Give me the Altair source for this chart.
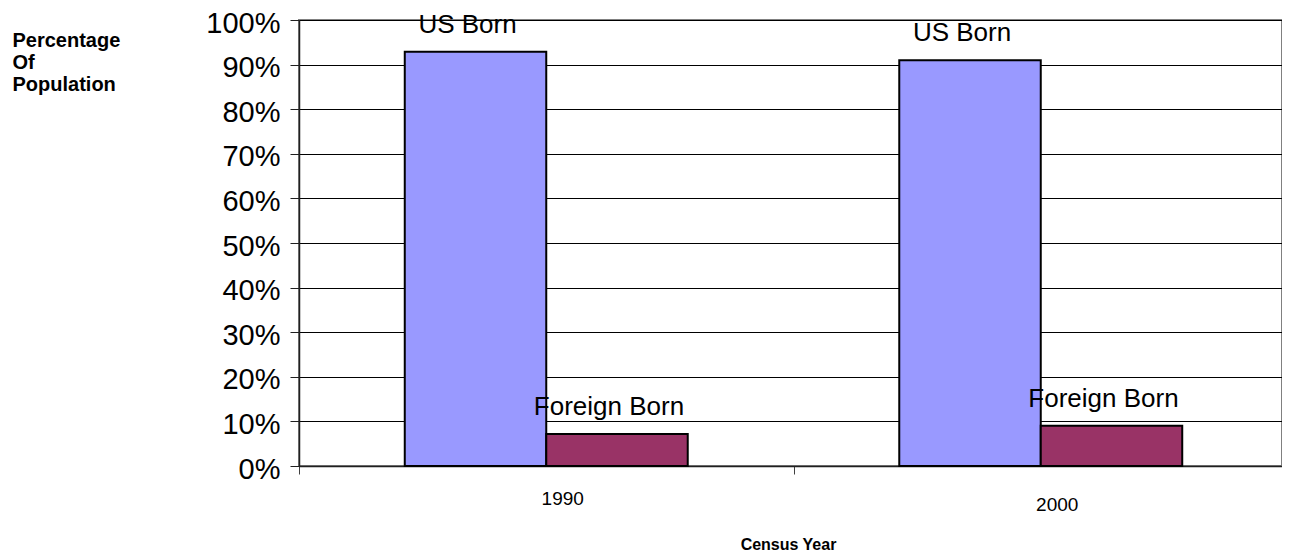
import altair as alt
import pandas as pd

years = ["1990", "2000"]
series = ["US Born", "Foreign Born"]
us_born = [0.929, 0.910]
foreign_born = [0.072, 0.090]
colors = ["#9999FF", "#993366"]

rows = []
for i, yr in enumerate(years):
    rows.append({"year": yr, "series": series[0], "value": us_born[i]})
    rows.append({"year": yr, "series": series[1], "value": foreign_born[i]})
df = pd.DataFrame(rows)

FONT = "Liberation Sans"

x = alt.X(
    "year:N",
    scale=alt.Scale(paddingInner=0, paddingOuter=0, range=[0, 989]),
    axis=alt.Axis(
        title="Census Year",
        titleFont=FONT,
        titleFontSize=16,
        titleFontWeight="bold",
        titleColor="black",
        titleX=489,
        titleY=83,
        titleAlign="center",
        titleBaseline="alphabetic",
        labelFont=FONT,
        labelFontSize=19,
        labelColor="black",
        labelAngle=0,
        labelBaseline="top",
        labelOffset=16,
        labelPadding=alt.condition("datum.value == '2000'", alt.value(21), alt.value(15)),
        tickBand="extent",
        tickSize=8,
        tickColor="#404040",
        domainColor="#202020",
        domainWidth=1.5,
        grid=False,
    ),
)
xo = alt.XOffset("series:N", sort=series, scale=alt.Scale(paddingInner=0, paddingOuter=0.7475))
y = alt.Y(
    "value:Q",
    scale=alt.Scale(domain=[0, 1], nice=False),
    axis=alt.Axis(
        values=[i / 10 for i in range(11)],
        format="%",
        title=["Percentage", "Of", "Population"],
        titleFont=FONT,
        titleFontSize=20,
        titleFontWeight="bold",
        titleColor="black",
        titleAngle=0,
        titleAlign="left",
        titleBaseline="alphabetic",
        titleX=-287,
        titleY=26,
        titleLineHeight=22,
        labelFont=FONT,
        labelFontSize=29,
        labelColor="black",
        labelPadding=10,
        labelOffset=3,
        tickSize=9,
        tickColor="#202020",
        domainColor="#202020",
        domainWidth=1.5,
        grid=True,
        gridColor="#000000",
        gridWidth=1,
    ),
)
color = alt.Color("series:N", scale=alt.Scale(domain=series, range=colors), legend=None)

base = alt.Chart(df)
bars = base.mark_bar(stroke="black", strokeWidth=2).encode(x=x, xOffset=xo, y=y, color=color)
labels = base.mark_text(
    font=FONT, fontSize=26, color="black", baseline="alphabetic", dx=-8, dy=-19
).encode(x=x, xOffset=xo, y=y, text="series:N")

chart = (
    alt.layer(bars, labels)
    .properties(
        width=983,
        height=446,
        autosize=alt.AutoSizeParams(type="none"),
        padding={"left": 291, "top": 12, "right": 0, "bottom": 86},
        background="white",
    )
    .configure_view(stroke="#808080", strokeWidth=2)
)

chart.save("out.html", embed_options={"renderer": "svg", "actions": False})
